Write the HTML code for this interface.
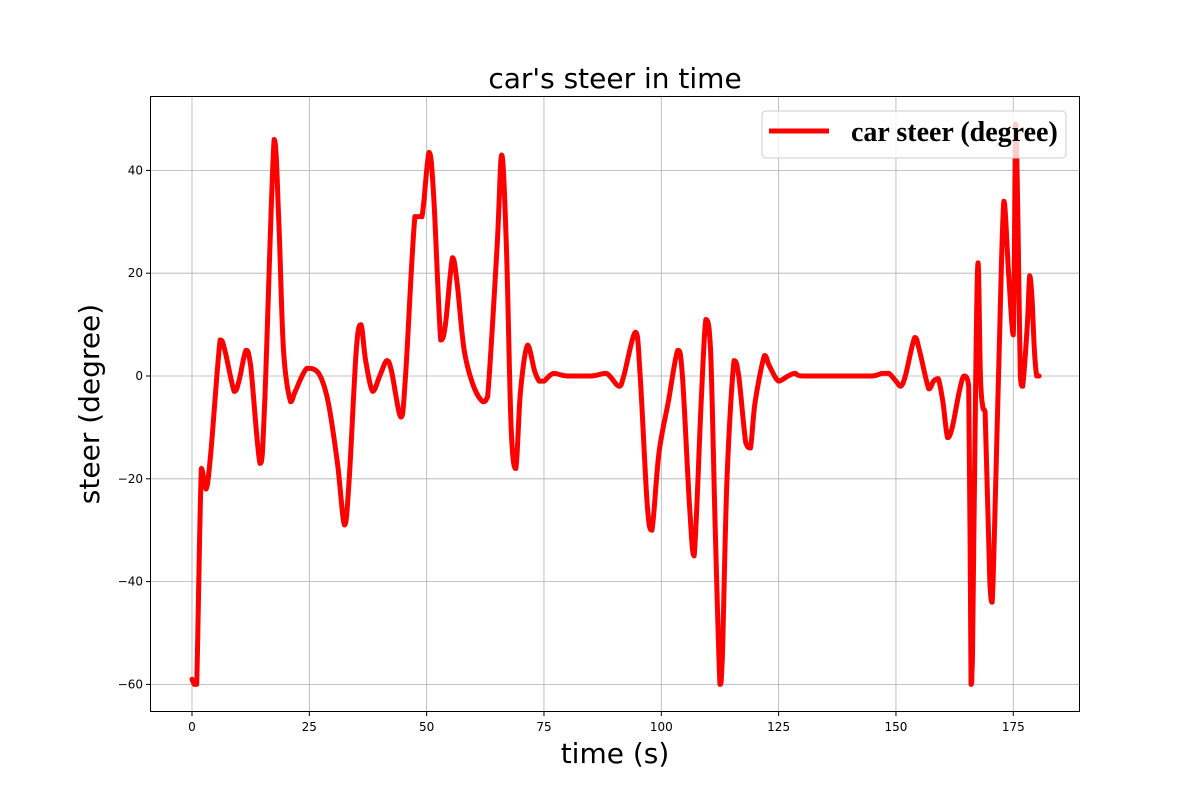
<!DOCTYPE html>
<html><head><meta charset="utf-8"><style>
body{margin:0;background:#fff}
svg{display:block}
</style></head><body>
<svg id="chart" width="1200" height="800" xmlns="http://www.w3.org/2000/svg">
<rect width="1200" height="800" fill="#fff"/>
<g id="grid"></g>
<g id="ticks" font-family="DejaVu Sans, sans-serif" font-size="12" fill="#000"></g>
<path id="line" fill="none" stroke="#ff0000" stroke-width="5" stroke-linejoin="round" stroke-linecap="round"/>
<rect x="150.5" y="96.5" width="929" height="615" fill="none" stroke="#000" stroke-width="1"/>
<text x="615" y="88" text-anchor="middle" font-family="DejaVu Sans, sans-serif" font-size="28">car's steer in time</text>
<text x="615" y="763" text-anchor="middle" font-family="DejaVu Sans, sans-serif" font-size="28">time (s)</text>
<text transform="translate(99,404) rotate(-90)" text-anchor="middle" font-family="DejaVu Sans, sans-serif" font-size="28">steer (degree)</text>
<g>
<rect x="762" y="111" width="304" height="47" rx="4" fill="#fff" fill-opacity="0.8" stroke="#ccc"/>
<line x1="769" y1="131" x2="829" y2="131" stroke="#ff0000" stroke-width="5"/>
<text x="851" y="141" font-family="Liberation Serif, serif" font-weight="bold" font-size="28">car steer (degree)</text>
</g>
</svg>
<script>
const xTicks=[0,25,50,75,100,125,150,175];
const yTicks=[-60,-40,-20,0,20,40];
const times=[0,0.5,1,2,3,4,6,7,9,10,11.5,12.5,14.5,15.5,17.5,18.5,19.5,21,22,24.5,27,29,31,32.5,33.5,35,36,37,38.5,40,41.5,42.5,44.5,45.5,47.5,49,50.5,51.5,53,54,55.5,56.5,58,60,62,63,65,66,67,68,69,70,71.5,73,74,75,77,80,85,88,89,91,92,94.5,95.5,97,98,99.5,101.5,103.5,104.5,106,107,108.5,109.5,110.5,111.5,112.5,113,114,115.5,116.5,118,119,120,122,123,125,127,128.5,130,140,145,147,148.5,150,151,152,154,155,157,158,159,160,161,162,163.5,164.5,165.5,166,166.3,167,167.5,168,168.5,169,170,170.5,171,172,173,174,175,175.5,176,176.5,177,178,178.5,179,179.5,180,180.5];
const steer=[-59,-60,-60,-18,-22,-15,7,5,-3,-1,5,2,-17,-5,46,30,5,-5,-3,1.5,0.5,-5,-17,-29,-20,5,10,3,-3,0,3,1,-8,0,31,31,43.5,35,7,10,23,18,5,-2,-5,-4,25,43,25,-10,-18,-3,6,1,-1,-1,0.5,0,0,0.5,0,-2,0,8.5,0,-25,-30,-15,-5,5,0,-25,-35,-5,11,5,-30,-60,-55,-20,3,0,-13,-14,-5,4,2,-1,0,0.5,0,0,0,0.5,0.5,-1,-2,0,7.5,5,-2.5,-1,-0.5,-5,-12,-10,-3,0,-2,-60,-55,0,22,0,-6,-7,-40,-44,-30,5,34,20,8,49,30,0,-2,10,19.5,15,5,0,0];
const X=v=>192+v*4.693, Y=v=>376-v*5.14;
const grid=document.getElementById('grid'), ticks=document.getElementById('ticks'), ns='http://www.w3.org/2000/svg';
xTicks.forEach(t=>{
 const l=document.createElementNS(ns,'line');
 l.setAttribute('x1',X(t));l.setAttribute('x2',X(t));l.setAttribute('y1',97);l.setAttribute('y2',712);
 l.setAttribute('stroke','#b0b0b0');l.setAttribute('stroke-width','0.8');
 
 
 grid.appendChild(l);
 const k=document.createElementNS(ns,'line');
 k.setAttribute('x1',X(t));k.setAttribute('x2',X(t));k.setAttribute('y1',712);k.setAttribute('y2',716);k.setAttribute('stroke','#000');
 
 
 ticks.appendChild(k);
 const s=document.createElementNS(ns,'text');
 s.setAttribute('x',X(t));s.setAttribute('y',731);s.setAttribute('text-anchor','middle');s.textContent=t;
 
 
 ticks.appendChild(s);
});
yTicks.forEach(t=>{
 const l=document.createElementNS(ns,'line');
 l.setAttribute('x1',151);l.setAttribute('x2',1080);l.setAttribute('y1',Y(t));l.setAttribute('y2',Y(t));
 l.setAttribute('stroke','#b0b0b0');l.setAttribute('stroke-width','0.8');
 
 
 grid.appendChild(l);
 const k=document.createElementNS(ns,'line');
 k.setAttribute('x1',146);k.setAttribute('x2',150);k.setAttribute('y1',Y(t));k.setAttribute('y2',Y(t));k.setAttribute('stroke','#000');
 
 
 ticks.appendChild(k);
 const s=document.createElementNS(ns,'text');
 s.setAttribute('x',143);s.setAttribute('y',Y(t)+4);s.setAttribute('text-anchor','end');s.textContent=(t<0?'\u2212'+(-t):t);
 
 
 ticks.appendChild(s);
});
const pts=times.map((t,i)=>[X(t),Y(steer[i])]);
const cl=(v,a,b)=>Math.min(Math.max(v,Math.min(a,b)),Math.max(a,b));
let d='M'+pts[0][0]+','+pts[0][1];
for(let i=0;i<pts.length-1;i++){
 const p0=pts[i-1]||pts[i],p1=pts[i],p2=pts[i+1],p3=pts[i+2]||p2;
 const c1=[p1[0]+(p2[0]-p0[0])/6,p1[1]+(p2[1]-p0[1])/6];
 const c2=[p2[0]-(p3[0]-p1[0])/6,p2[1]-(p3[1]-p1[1])/6];
 c1[0]=cl(c1[0],p1[0],p2[0]);c2[0]=cl(c2[0],p1[0],p2[0]);
 c1[1]=cl(c1[1],p1[1],p2[1]);c2[1]=cl(c2[1],p1[1],p2[1]);
 d+=' C'+c1[0]+','+c1[1]+' '+c2[0]+','+c2[1]+' '+p2[0]+','+p2[1];
}
document.getElementById('line').setAttribute('d',d);
</script>
</body></html>
